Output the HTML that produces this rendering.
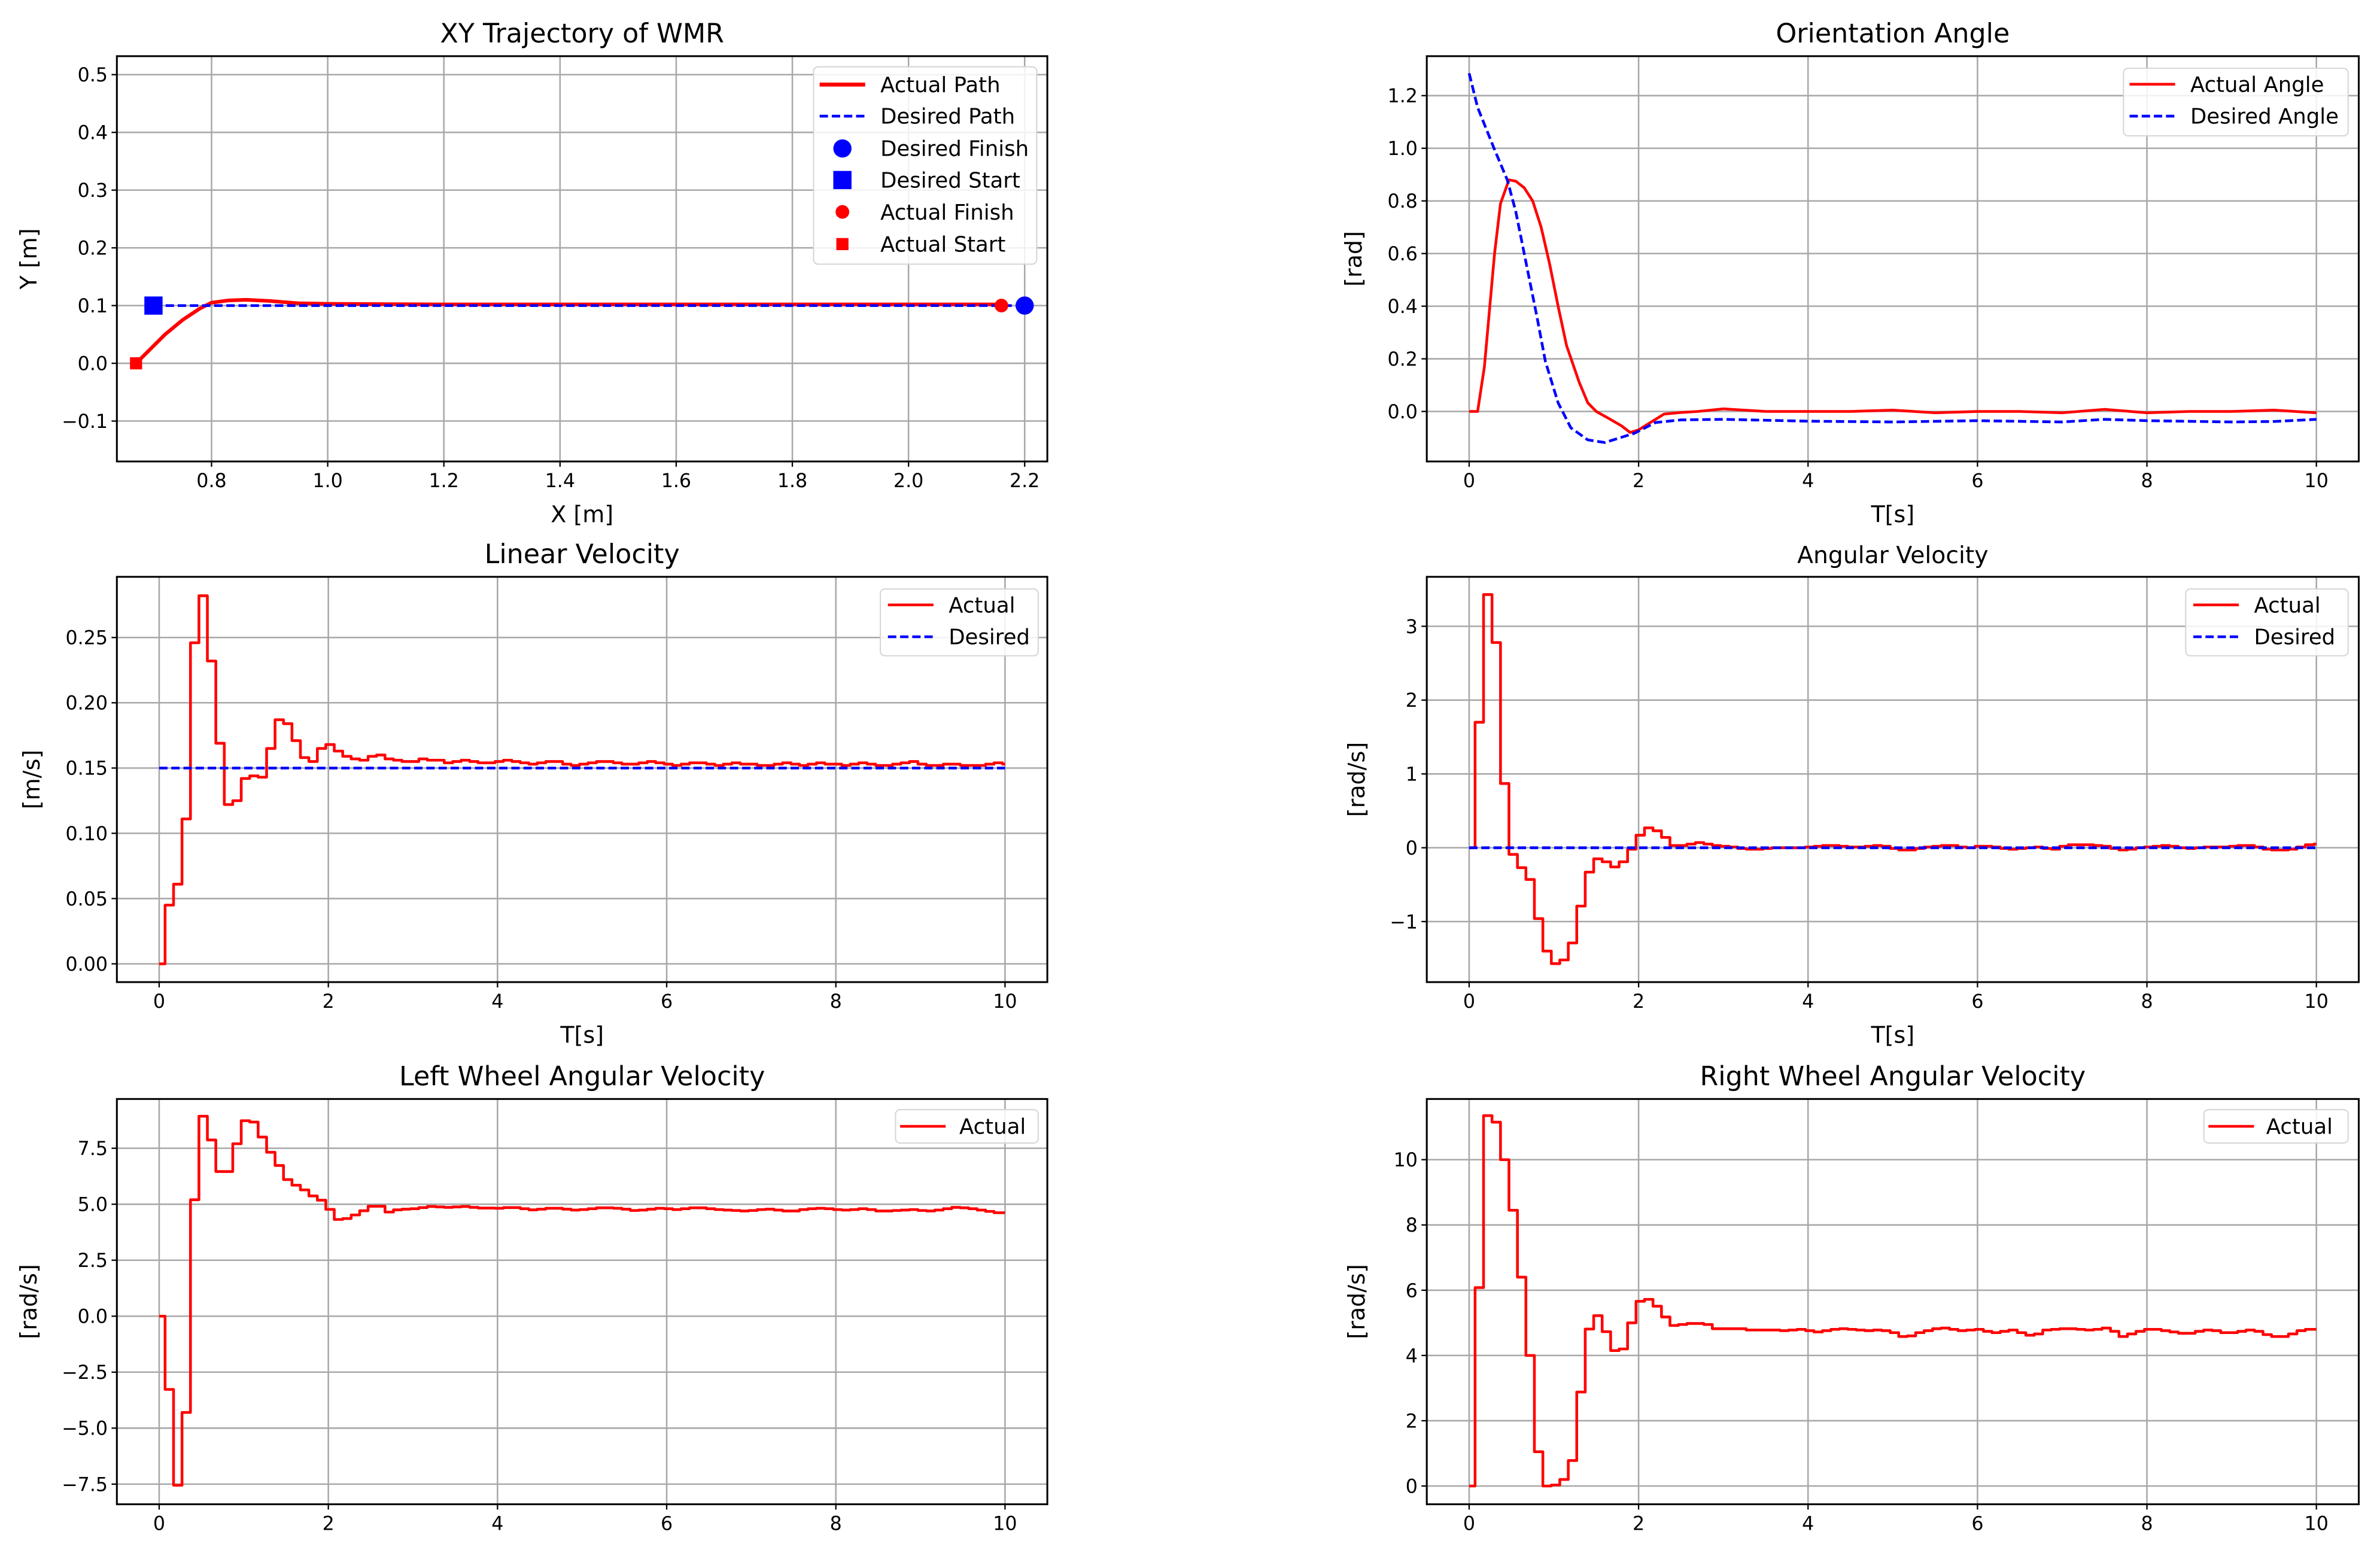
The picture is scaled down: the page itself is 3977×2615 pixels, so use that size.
<!DOCTYPE html>
<html><head><meta charset="utf-8"><style>
html,body{margin:0;padding:0;background:#fff;}
svg{display:block;font-family:"DejaVu Sans","Liberation Sans",sans-serif;}
</style></head><body>
<svg id="fig" width="3977" height="2615" viewBox="0 0 1568 1031" xmlns="http://www.w3.org/2000/svg"></svg>
<script>
// ---- data ----
const xyActualX = [0.67,0.69,0.72,0.75,0.78,0.80,0.83,0.86,0.90,0.95,1.0,1.2,1.6,2.0,2.16];
const xyActualY = [0,0.02,0.05,0.075,0.095,0.105,0.109,0.11,0.108,0.104,0.103,0.102,0.102,0.102,0.102];
const xyDesiredX = [0.7,2.2];
const xyDesiredY = [0.1,0.1];

const angActT = [0,0.1,0.18,0.3,0.37,0.47,0.55,0.65,0.75,0.85,0.95,1.05,1.15,1.3,1.4,1.5,1.65,1.8,1.9,2.0,2.15,2.3,2.5,2.7,3.0,3.5,4,4.5,5,5.5,6,6.5,7,7.5,8,8.5,9,9.5,10];
const angActV = [0,0,0.17,0.6,0.79,0.88,0.875,0.85,0.80,0.70,0.56,0.40,0.25,0.11,0.033,0,-0.027,-0.055,-0.08,-0.07,-0.04,-0.01,-0.004,0.0,0.01,0.0,0.0,0.0,0.005,-0.005,0.0,0.0,-0.005,0.008,-0.005,0.0,0.0,0.005,-0.005];
const angDesT = [0,0.1,0.2,0.3,0.45,0.55,0.65,0.8,0.9,1.05,1.2,1.4,1.6,1.75,1.95,2.2,2.5,3,4,5,6,7,7.5,8,9,9.5,10];
const angDesV = [1.285,1.155,1.075,0.995,0.88,0.76,0.6,0.36,0.19,0.033,-0.062,-0.108,-0.118,-0.103,-0.083,-0.042,-0.032,-0.03,-0.037,-0.04,-0.035,-0.04,-0.03,-0.035,-0.04,-0.038,-0.03];

const linVel = [0,0.045,0.061,0.111,0.246,0.282,0.232,0.169,0.122,0.125,0.142,0.144,0.143,0.165,0.187,0.184,0.171,0.158,0.155,0.165,0.168,0.163,0.159,0.157,0.156,0.159,0.160,0.157,
0.156,0.155,0.155,0.157,0.156,0.156,0.154,0.155,0.156,0.155,
0.154,0.154,0.155,0.156,0.155,0.154,0.153,0.154,0.155,0.155,
0.153,0.152,0.153,0.154,0.155,0.155,0.154,0.153,0.153,0.154,
0.155,0.154,0.153,0.152,0.153,0.154,0.154,0.153,0.152,0.153,
0.154,0.153,0.153,0.152,0.152,0.153,0.154,0.153,0.152,0.153,
0.154,0.153,0.153,0.152,0.153,0.154,0.153,0.152,0.152,0.153,
0.154,0.155,0.153,0.152,0.152,0.153,0.153,0.152,0.152,0.152,
0.153,0.154,0.153];
const linVelDesired = 0.15;

const angVel = [0,1.70,3.43,2.78,0.87,-0.09,-0.27,-0.43,-0.96,-1.40,-1.57,-1.52,-1.29,-0.79,-0.33,-0.15,-0.19,-0.26,-0.19,-0.02,0.17,0.27,0.23,0.14,0.03,0.03,0.05,0.07,
0.05,0.03,0.02,0.01,-0.01,-0.02,-0.02,-0.01,0.00,0.00,
0.00,0.00,0.01,0.02,0.03,0.03,0.02,0.01,0.01,0.02,
0.03,0.02,-0.01,-0.03,-0.03,-0.01,0.01,0.02,0.03,0.03,
0.01,0.00,0.02,0.02,0.01,-0.01,-0.02,-0.01,0.00,0.01,
-0.01,-0.02,0.02,0.04,0.04,0.04,0.03,0.02,-0.01,-0.03,
-0.02,0.00,0.01,0.02,0.03,0.02,0.00,-0.01,0.00,0.01,
0.01,0.01,0.02,0.03,0.03,0.01,-0.02,-0.03,-0.03,-0.02,
0.01,0.04,0.05];
const angVelDesired = 0;

const leftWheel = [0,-3.27,-7.55,-4.3,5.2,8.93,7.87,6.46,6.46,7.7,8.73,8.67,8.0,7.32,6.73,6.1,5.85,5.64,5.37,5.18,4.77,4.32,4.36,4.52,4.71,4.91,4.91,4.65,
4.75,4.78,4.80,4.85,4.90,4.88,4.86,4.88,4.90,4.86,
4.83,4.83,4.82,4.85,4.85,4.80,4.75,4.78,4.82,4.82,
4.78,4.74,4.76,4.80,4.84,4.84,4.82,4.78,4.72,4.74,
4.78,4.82,4.80,4.76,4.80,4.84,4.84,4.80,4.76,4.74,
4.72,4.70,4.72,4.76,4.78,4.74,4.70,4.70,4.76,4.80,
4.82,4.80,4.76,4.74,4.76,4.80,4.76,4.70,4.70,4.72,
4.74,4.76,4.72,4.70,4.74,4.80,4.86,4.84,4.80,4.74,
4.68,4.62,4.62];

const rightWheel = [0,6.08,11.35,11.15,10.0,8.45,6.4,4.0,1.05,0,0.03,0.2,0.78,2.88,4.81,5.22,4.73,4.15,4.2,5.0,5.66,5.72,5.51,5.18,4.92,4.95,4.98,
4.98,4.95,4.82,4.82,4.82,4.82,4.78,4.78,4.78,4.78,
4.76,4.78,4.80,4.76,4.72,4.76,4.80,4.82,4.80,4.78,
4.76,4.78,4.76,4.70,4.58,4.60,4.70,4.76,4.82,4.84,
4.80,4.76,4.78,4.80,4.74,4.70,4.74,4.78,4.70,4.62,
4.66,4.78,4.80,4.82,4.82,4.80,4.78,4.80,4.84,4.74,
4.58,4.66,4.74,4.80,4.80,4.76,4.72,4.68,4.68,4.74,
4.78,4.76,4.70,4.70,4.74,4.78,4.74,4.64,4.58,4.58,
4.66,4.76,4.80,4.80];

const timeTicks = [0,2,4,6,8,10];
const xyXTicks = [0.8,1.0,1.2,1.4,1.6,1.8,2.0,2.2];
const xyYTicks = [-0.1,0.0,0.1,0.2,0.3,0.4,0.5];
const angYTicks = [0.0,0.2,0.4,0.6,0.8,1.0,1.2];
const linYTicks = [0.00,0.05,0.10,0.15,0.20,0.25];
const avYTicks = [-1,0,1,2,3];
const lwYTicks = [-7.5,-5.0,-2.5,0.0,2.5,5.0,7.5];
const rwYTicks = [0,2,4,6,8,10];
const STEP_DT = 0.1, STEP_OFFSET = 0.03;

// ---- helpers ----
const NS = "http://www.w3.org/2000/svg";
const svg = document.getElementById('fig');
function el(tag, attrs, parent, text){
  const e = document.createElementNS(NS, tag);
  for (const k in attrs) e.setAttribute(k, attrs[k]);
  if (text !== undefined) e.textContent = text;
  (parent || svg).appendChild(e);
  return e;
}
function fmt(v, d){ const s = v.toFixed(d); return s.startsWith('-') ? '\u2212' + s.slice(1) : s; }

function panel(cfg){
  const g = el('g', {});
  
  
  const L=cfg.box[0], T=cfg.box[1], R=cfg.box[2], B=cfg.box[3];
  const sx = v => L + (v - cfg.xr[0]) / (cfg.xr[1] - cfg.xr[0]) * (R - L);
  const sy = v => B - (v - cfg.yr[0]) / (cfg.yr[1] - cfg.yr[0]) * (B - T);
  el('rect', {x:L, y:T, width:R-L, height:B-T, fill:'#fff'}, g);
  const clipId = 'clip-' + cfg.name;
  const cp = el('clipPath', {id: clipId}, g);
  el('rect', {x:L, y:T, width:R-L, height:B-T}, cp);
  cfg.xticks.forEach(v => {
    const x = sx(v);
    const gl = el('line', {x1:x, x2:x, y1:T, y2:B, stroke:'#a8a8a8', 'stroke-width':1}, g);
    
    
    el('line', {x1:x, x2:x, y1:B, y2:B+3.5, stroke:'#000', 'stroke-width':0.9}, g);
    const t = el('text', {x:x, y:B+17, 'font-size':12.5, 'text-anchor':'middle', fill:'#000'}, g, fmt(v, cfg.xd));
    
    
  });
  cfg.yticks.forEach(v => {
    const y = sy(v);
    const gl = el('line', {x1:L, x2:R, y1:y, y2:y, stroke:'#a8a8a8', 'stroke-width':1}, g);
    
    
    el('line', {x1:L-3.5, x2:L, y1:y, y2:y, stroke:'#000', 'stroke-width':0.9}, g);
    const t = el('text', {x:L-6, y:y+4.5, 'font-size':12.5, 'text-anchor':'end', fill:'#000'}, g, fmt(v, cfg.yd));
    
    
  });
  const plot = el('g', {'clip-path':'url(#'+clipId+')'}, g);
  cfg.series.forEach(s => {
    let d = '';
    if (s.step){
      const n = s.v.length;
      for (let k=0;k<n;k++){
        const a = k===0 ? 0 : Math.max(0, k*STEP_DT - STEP_OFFSET);
        const b = Math.min(10, (k+1)*STEP_DT - STEP_OFFSET);
        if (a > 10) break;
        const y = sy(s.v[k]).toFixed(2);
        d += (k===0 ? 'M' : 'L') + sx(a).toFixed(2) + ',' + y + 'L' + sx(b).toFixed(2) + ',' + y;
      }
    } else {
      s.x.forEach((xv,i) => { d += (i?'L':'M') + sx(xv).toFixed(2) + ',' + sy(s.y[i]).toFixed(2); });
    }
    const p = el('path', {d:d, fill:'none', stroke:s.color, 'stroke-width':s.w||1.8, 'stroke-dasharray':s.dash||'none', 'stroke-linejoin':'round'}, plot);
    
    
  });
  (cfg.markers||[]).forEach(m => {
    let e;
    if (m.shape === 'sq') e = el('rect', {x:sx(m.x)-m.r, y:sy(m.y)-m.r, width:2*m.r, height:2*m.r, fill:m.color}, g);
    else e = el('circle', {cx:sx(m.x), cy:sy(m.y), r:m.r, fill:m.color}, g);
    
    
  });
  el('rect', {x:L, y:T, width:R-L, height:B-T, fill:'none', stroke:'#000', 'stroke-width':1.2}, g);
  const tt = el('text', {x:(L+R)/2, y:T-9, 'font-size':cfg.tfs||17.5, 'text-anchor':'middle', fill:'#000'}, g, cfg.title);
  
  
  if (cfg.xlabel){
    const xl = el('text', {x:(L+R)/2, y:B+40, 'font-size':15, 'text-anchor':'middle', fill:'#000'}, g, cfg.xlabel);
    
    
  }
  const yl = el('text', {x:0, y:0, 'font-size':15, 'text-anchor':'middle', fill:'#000', transform:'translate('+cfg.ylx+','+((T+B)/2)+') rotate(-90)'}, g, cfg.ylabel);
  
  
  const lg = cfg.legend;
  const lgG = el('g', {}, g);
  
  
  el('rect', {x:lg.box[0], y:lg.box[1], width:lg.box[2]-lg.box[0], height:lg.box[3]-lg.box[1], rx:3, fill:'#fff', 'fill-opacity':0.85, stroke:'#d5d5d5', 'stroke-width':0.8}, lgG);
  lg.items.forEach((it,i) => {
    const y = lg.rows[i];
    const ig = el('g', {}, lgG);
    
    
    if (it.type === 'line') el('line', {x1:lg.hx, x2:lg.hx+30, y1:y, y2:y, stroke:it.color, 'stroke-width':it.w||1.8, 'stroke-dasharray':it.dash||'none'}, ig);
    else if (it.type === 'sq') el('rect', {x:lg.hx+15-it.r, y:y-it.r, width:2*it.r, height:2*it.r, fill:it.color}, ig);
    else el('circle', {cx:lg.hx+15, cy:y, r:it.r, fill:it.color}, ig);
    el('text', {x:lg.tx, y:y+5, 'font-size':14, fill:'#000'}, ig, it.label);
  });
}

const C1=[77,690], C2=[940,1554];
panel({name:'xy-trajectory-chart', box:[C1[0],37,C1[1],304], xr:[0.637,2.239], yr:[-0.17,0.532],
  xticks:xyXTicks, xd:1, yticks:xyYTicks, yd:1, title:'XY Trajectory of WMR', xlabel:'X [m]', ylabel:'Y [m]', ylx:24,
  series:[{name:'actual-path', x:xyActualX, y:xyActualY, color:'#ff0000', w:2.4},
          {name:'desired-path', x:xyDesiredX, y:xyDesiredY, color:'#0000ff', w:1.8, dash:'5.5,2.5'}],
  markers:[{name:'desired-start', shape:'sq', x:0.7, y:0.1, r:6, color:'#0000ff'},
           {name:'actual-start', shape:'sq', x:0.67, y:0.0, r:4, color:'#ff0000'},
           {name:'actual-finish', shape:'c', x:2.16, y:0.1, r:4.5, color:'#ff0000'},
           {name:'desired-finish', shape:'c', x:2.2, y:0.1, r:6, color:'#0000ff'}],
  legend:{box:[536,44,683,174], rows:[55.7,76.5,97.8,118.6,139.6,160.8], hx:540, tx:580,
    items:[{type:'line',color:'#ff0000',w:2.6,label:'Actual Path'},{type:'line',color:'#0000ff',dash:'5.5,2.5',label:'Desired Path'},
      {type:'c',color:'#0000ff',r:6,label:'Desired Finish'},{type:'sq',color:'#0000ff',r:6,label:'Desired Start'},
      {type:'c',color:'#ff0000',r:4.5,label:'Actual Finish'},{type:'sq',color:'#ff0000',r:4,label:'Actual Start'}]}});

panel({name:'orientation-angle-chart', box:[C2[0],37,C2[1],304], xr:[-0.5,10.5], yr:[-0.19,1.35],
  xticks:timeTicks, xd:0, yticks:angYTicks, yd:1, title:'Orientation Angle', xlabel:'T[s]', ylabel:'[rad]', ylx:897,
  series:[{name:'actual-angle', x:angActT, y:angActV, color:'#ff0000'},
          {name:'desired-angle', x:angDesT, y:angDesV, color:'#0000ff', dash:'5.5,2.5'}],
  legend:{box:[1399,45,1547,89.5], rows:[55.5,76.5], hx:1403, tx:1443,
    items:[{type:'line',color:'#ff0000',label:'Actual Angle'},{type:'line',color:'#0000ff',dash:'5.5,2.5',label:'Desired Angle'}]}});

panel({name:'linear-velocity-chart', box:[C1[0],380,C1[1],647], xr:[-0.5,10.5], yr:[-0.014,0.2965],
  xticks:timeTicks, xd:0, yticks:linYTicks, yd:2, title:'Linear Velocity', xlabel:'T[s]', ylabel:'[m/s]', ylx:26,
  series:[{name:'actual-linear-velocity', step:true, v:linVel, color:'#ff0000'},
          {name:'desired-linear-velocity', x:[0,10], y:[linVelDesired,linVelDesired], color:'#0000ff', dash:'5.5,2.5'}],
  legend:{box:[580,388,684,432], rows:[398.5,419.5], hx:585, tx:625,
    items:[{type:'line',color:'#ff0000',label:'Actual'},{type:'line',color:'#0000ff',dash:'5.5,2.5',label:'Desired'}]}});

panel({name:'angular-velocity-chart', box:[C2[0],380,C2[1],647], xr:[-0.5,10.5], yr:[-1.82,3.67],
  xticks:timeTicks, xd:0, yticks:avYTicks, yd:0, title:'Angular Velocity', tfs:15.5, xlabel:'T[s]', ylabel:'[rad/s]', ylx:899,
  series:[{name:'actual-angular-velocity', step:true, v:angVel, color:'#ff0000'},
          {name:'desired-angular-velocity', x:[0,10], y:[angVelDesired,angVelDesired], color:'#0000ff', dash:'5.5,2.5'}],
  legend:{box:[1440,388,1547,432], rows:[398.5,419.5], hx:1445, tx:1485,
    items:[{type:'line',color:'#ff0000',label:'Actual'},{type:'line',color:'#0000ff',dash:'5.5,2.5',label:'Desired'}]}});

panel({name:'left-wheel-velocity-chart', box:[C1[0],724,C1[1],991], xr:[-0.5,10.5], yr:[-8.4,9.7],
  xticks:timeTicks, xd:0, yticks:lwYTicks, yd:1, title:'Left Wheel Angular Velocity', ylabel:'[rad/s]', ylx:24,
  series:[{name:'left-wheel-actual', step:true, v:leftWheel, color:'#ff0000'}],
  legend:{box:[590,731,684,753], rows:[742], hx:593, tx:632,
    items:[{type:'line',color:'#ff0000',label:'Actual'}]}});

panel({name:'right-wheel-velocity-chart', box:[C2[0],724,C2[1],991], xr:[-0.5,10.5], yr:[-0.56,11.86],
  xticks:timeTicks, xd:0, yticks:rwYTicks, yd:0, title:'Right Wheel Angular Velocity', ylabel:'[rad/s]', ylx:899,
  series:[{name:'right-wheel-actual', step:true, v:rightWheel, color:'#ff0000'}],
  legend:{box:[1452,731,1547,753], rows:[742], hx:1455, tx:1493,
    items:[{type:'line',color:'#ff0000',label:'Actual'}]}});
</script>
</body></html>
